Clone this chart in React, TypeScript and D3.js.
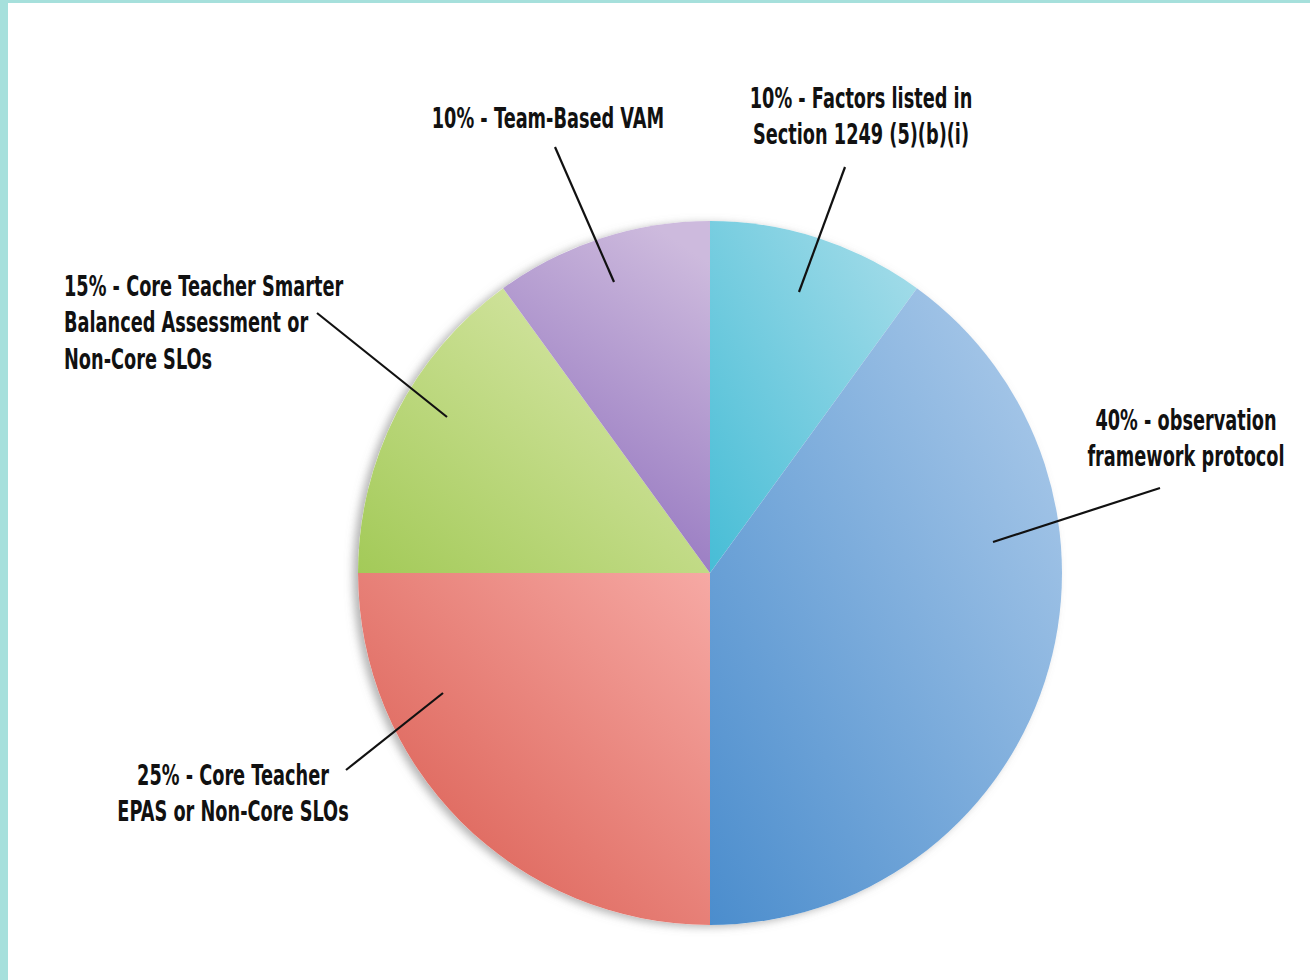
import React, { useMemo } from "react";
import * as d3 from "d3";

const categories = [
  "Factors listed in Section 1249 (5)(b)(i)",
  "observation framework protocol",
  "Core Teacher EPAS or Non-Core SLOs",
  "Core Teacher Smarter Balanced Assessment or Non-Core SLOs",
  "Team-Based VAM",
];
const values = [10, 40, 25, 15, 10];
const labelLines = [
  ["10% - Factors listed in", "Section 1249 (5)(b)(i)"],
  ["40% - observation", "framework protocol"],
  ["25% - Core Teacher", "EPAS or Non-Core SLOs"],
  ["15% - Core Teacher Smarter", "Balanced Assessment or", "Non-Core SLOs"],
  ["10% - Team-Based VAM"],
];
const colorLight = ["#a9deea", "#b0cdeb", "#f6a9a4", "#dfebb3", "#cdbadd"];
const colorDark = ["#47bdd6", "#4b8dcd", "#d8564a", "#a3ca58", "#8d6dbc"];

// layout (label anchor and leader line, relative to pie centre)
const W = 1310, H = 980;
const CX = 710, CY = 573, R = 352;
const labelLayout = [
  { x: 151, y: -465, anchor: "middle", line: [[135, -406], [89, -281]] },
  { x: 476, y: -143, anchor: "middle", line: [[450, -85], [283, -31]] },
  { x: -477, y: 212, anchor: "middle", line: [[-364, 197], [-267, 120]] },
  { x: -646, y: -277, anchor: "start", line: [[-393, -260], [-263, -156]] },
  { x: -162, y: -445, anchor: "middle", line: [[-155, -426], [-96, -291]] },
];
const gradDir = [
  [1, 0, 0, 1],
  [1, 0, 0, 1],
  [1, 0, 0, 1],
  [1, 0, 0, 1],
  [0.7, 0, 0.3, 1],
];
const FONT = "'DejaVu Sans', sans-serif";
const FS = 27.5;
const LH = 36.5;
const SX = 0.645;

export default function App() {
  const arcs = useMemo(() => d3.pie<number>().sort(null).value((d) => d)(values), []);
  const arcGen = d3.arc<d3.PieArcDatum<number>>().innerRadius(0).outerRadius(R);
  return (
    <svg width={W} height={H} style={{ position: "absolute", left: 0, top: 0, background: "#fff" }}>
      <defs>
        <filter id="shadow" x="-20%" y="-20%" width="140%" height="140%">
          <feDropShadow dx={-5} dy={2} stdDeviation={4} floodColor="#777" floodOpacity={0.55} />
        </filter>
        {values.map((_, i) => (
          <linearGradient key={i} id={`g${i}`} x1={gradDir[i][0]} y1={gradDir[i][1]} x2={gradDir[i][2]} y2={gradDir[i][3]}>
            <stop offset="0%" stopColor={colorLight[i]} />
            <stop offset="100%" stopColor={colorDark[i]} />
          </linearGradient>
        ))}
      </defs>
      <rect x={0} y={0} width={W} height={H} fill="#fff" />
      <rect x={0} y={0} width={W} height={3} fill="#a6e0dc" />
      <rect x={0} y={0} width={8} height={H} fill="#a6e0dc" />
      <g transform={`translate(${CX},${CY})`}>
        <circle r={R} fill="#fff" filter="url(#shadow)" />
        {arcs.map((a, i) => (
          <path key={categories[i]} d={arcGen(a) || ""} fill={`url(#g${i})`} />
        ))}
        {labelLayout.map((l, i) => (
          <line key={"l" + i} x1={l.line[0][0]} y1={l.line[0][1]} x2={l.line[1][0]} y2={l.line[1][1]} stroke="#111" strokeWidth={2.2} />
        ))}
        {labelLayout.map((l, i) => (
          <text key={"t" + i} transform={`translate(${l.x},${l.y}) scale(${SX},1)`} textAnchor={l.anchor as any} fontFamily={FONT} fontWeight="bold" fontSize={FS} fill="#111">
            {labelLines[i].map((s, j) => (
              <tspan key={j} x={0} dy={j === 0 ? 0 : LH}>{s}</tspan>
            ))}
          </text>
        ))}
      </g>
    </svg>
  );
}
